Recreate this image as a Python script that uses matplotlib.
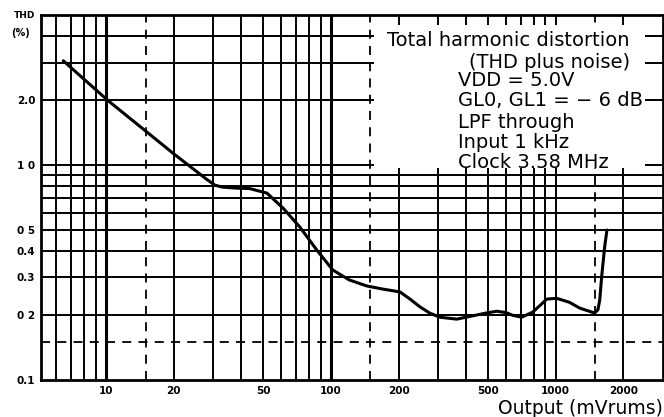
import numpy as np
import matplotlib.pyplot as plt
from matplotlib.patches import Rectangle

plt.rcParams['font.family'] = ['DejaVu Sans']

# THD curve
output_mv = [6.46, 10.2, 20, 28, 30.5, 33, 38, 43.6, 52, 61.3, 72.8, 86.7, 102, 121, 144.5,
             170, 203, 225, 249, 275, 305, 363, 428, 490, 547, 600, 645, 706, 790, 850,
             912, 1010, 1150, 1280, 1490, 1540, 1570, 1600, 1650, 1690]
thd_pct = [3.06, 2.0, 1.13, 0.86, 0.807, 0.79, 0.782, 0.778, 0.741, 0.631, 0.515, 0.402,
           0.325, 0.292, 0.274, 0.265, 0.257, 0.238, 0.219, 0.205, 0.196, 0.192, 0.199,
           0.205, 0.209, 0.206, 0.2, 0.196, 0.207, 0.222, 0.238, 0.24, 0.23, 0.216, 0.205,
           0.212, 0.236, 0.301, 0.415, 0.499]

x_grid = [6, 7, 8, 9, 10, 20, 30, 40, 50, 60, 70, 80, 90, 100,
          200, 300, 400, 500, 600, 700, 800, 900, 1000, 2000]
x_dash = [15, 150, 1500]
y_grid = [0.2, 0.3, 0.4, 0.5, 0.6, 0.7, 0.8, 0.9, 1.0, 2.0, 3.0, 4.0]
y_dash = [0.15]

x_ticks = [10, 20, 50, 100, 200, 500, 1000, 2000]
x_ticklabels = ['10', '20', '50', '100', '200', '500', '1000', '2000']
y_ticks = [0.1, 0.2, 0.3, 0.4, 0.5, 1.0, 2.0]
y_ticklabels = ['0.1', '0 2', '0.3', '0.4', '0 5', '1 0', '2.0']

notes = ['Total harmonic distortion', '(THD plus noise)', 'VDD = 5.0V',
         'GL0, GL1 = \u2212 6 dB', 'LPF through', 'Input 1 kHz', 'Clock 3.58 MHz']

fig = plt.figure(figsize=(6.64, 4.17), dpi=100)
ax = fig.add_axes([41/664, 37/417, 622/664, 365/417])
ax.set_xscale('log')
ax.set_yscale('log')
ax.set_xlim(5.14, 3000)
ax.set_ylim(0.1, 5.0)

for xv in x_grid:
    lw = 2.2 if xv in (10, 100) else 1.4
    ax.axvline(xv, color='black', lw=lw, zorder=1)
for xv in x_dash:
    ax.axvline(xv, color='black', lw=1.3, ls=(0, (5, 4)), zorder=1)
for yv in y_grid:
    ax.axhline(yv, color='black', lw=1.4, zorder=1)
for yv in y_dash:
    ax.axhline(yv, color='black', lw=1.3, ls=(0, (5, 4)), zorder=1)

# white panel behind the condition notes
ax.add_patch(Rectangle((155, 0.968), 2490 - 155, 4.48 - 0.968, facecolor='white',
                       edgecolor='none', zorder=2))

ax.plot(output_mv, thd_pct, color='black', lw=2.2, zorder=3, solid_capstyle='round')

ax.set_xticks(x_ticks)
ax.set_xticklabels(x_ticklabels)
ax.set_yticks(y_ticks)
ax.set_yticklabels(y_ticklabels)
ax.minorticks_off()
ax.tick_params(length=0, pad=4, labelsize=7.5)
for lab in ax.get_xticklabels() + ax.get_yticklabels():
    lab.set_fontweight('bold')
for sp in ax.spines.values():
    sp.set_linewidth(2.0)

fig.text(25/664, 1 - 15/417, 'THD', fontsize=6.5, fontweight='bold', ha='center', va='center')
fig.text(21/664, 1 - 33/417, '(%)', fontsize=7, fontweight='bold', ha='center', va='center')
fig.text(663/664, 1 - 408/417, 'Output (mVrums)', fontsize=13.5, ha='right', va='center')

line_x = [387, 469, 458, 458, 458, 458, 458]
line_y = [40, 62, 81, 101, 122, 142, 163]
for txt, px, py in zip(notes, line_x, line_y):
    fig.text(px/664, 1 - py/417, txt, fontsize=14, ha='left', va='center', zorder=5)

fig.savefig('out.png', dpi=100)
